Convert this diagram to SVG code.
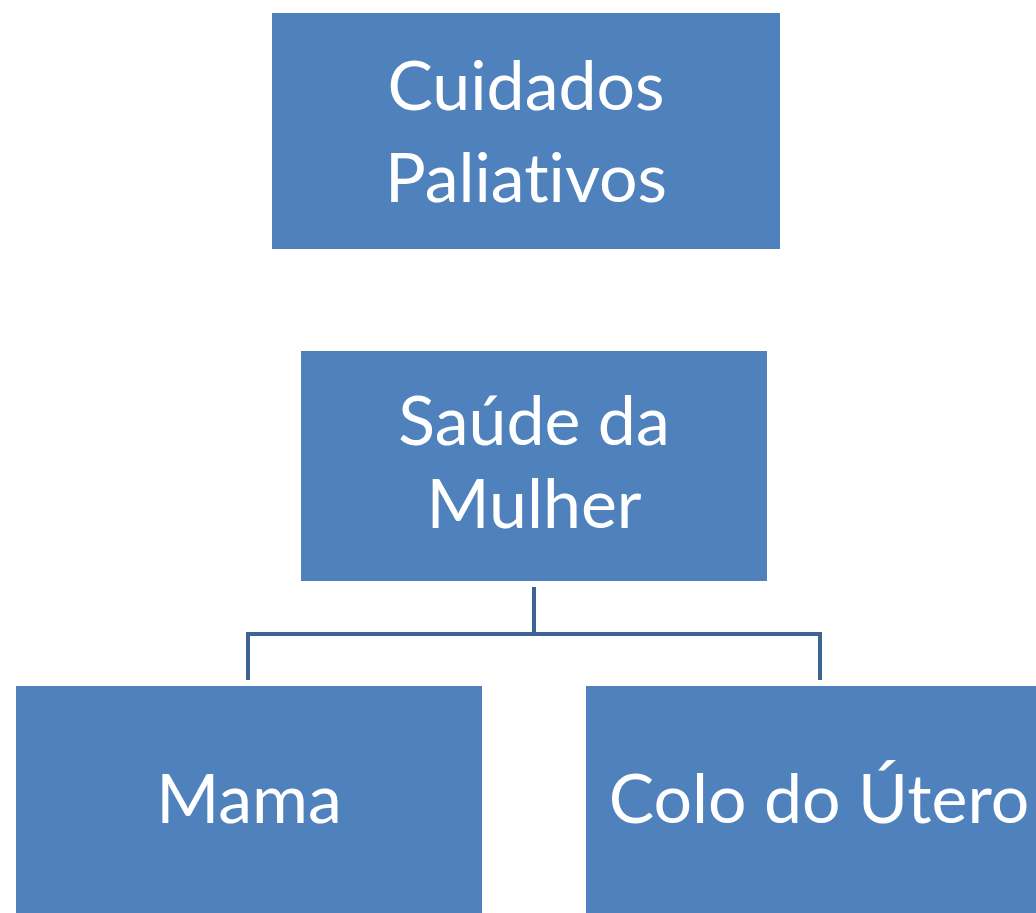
<svg xmlns="http://www.w3.org/2000/svg" width="1036" height="913" viewBox="0 0 1036 913">
<style>
.box{fill:#4F81BD;}
.lbl{font-family:Lato,"Open Sans","Liberation Sans",sans-serif;font-size:68px;fill:#FFFFFF;text-anchor:middle;font-variant-ligatures:none;font-feature-settings:"liga" 0;}
.conn{fill:none;stroke:#3D6594;stroke-width:4;}
</style>
<rect width="1036" height="913" fill="#FFFFFF"/>
<g id="connectors">
<path class="conn" d="M534 587 V634"/>
<path class="conn" d="M248 680 V634 H820 V680"/>
</g>
<g id="node-cuidados">
<rect class="box" x="272" y="13" width="508" height="236"/>
<text class="lbl" x="526" y="110">Cuidados</text>
<text class="lbl" x="526" y="202">Paliativos</text>
</g>
<g id="node-saude">
<rect class="box" x="301" y="351" width="466" height="230"/>
<text class="lbl" x="534" y="445">Saúde da</text>
<text class="lbl" x="534" y="528">Mulher</text>
</g>
<g id="node-mama">
<rect class="box" x="16" y="686" width="466" height="227"/>
<text class="lbl" x="249" y="823">Mama</text>
</g>
<g id="node-colo">
<rect class="box" x="586" y="686" width="450" height="227"/>
<text class="lbl" x="819" y="823">Colo do Útero</text>
</g>
</svg>
